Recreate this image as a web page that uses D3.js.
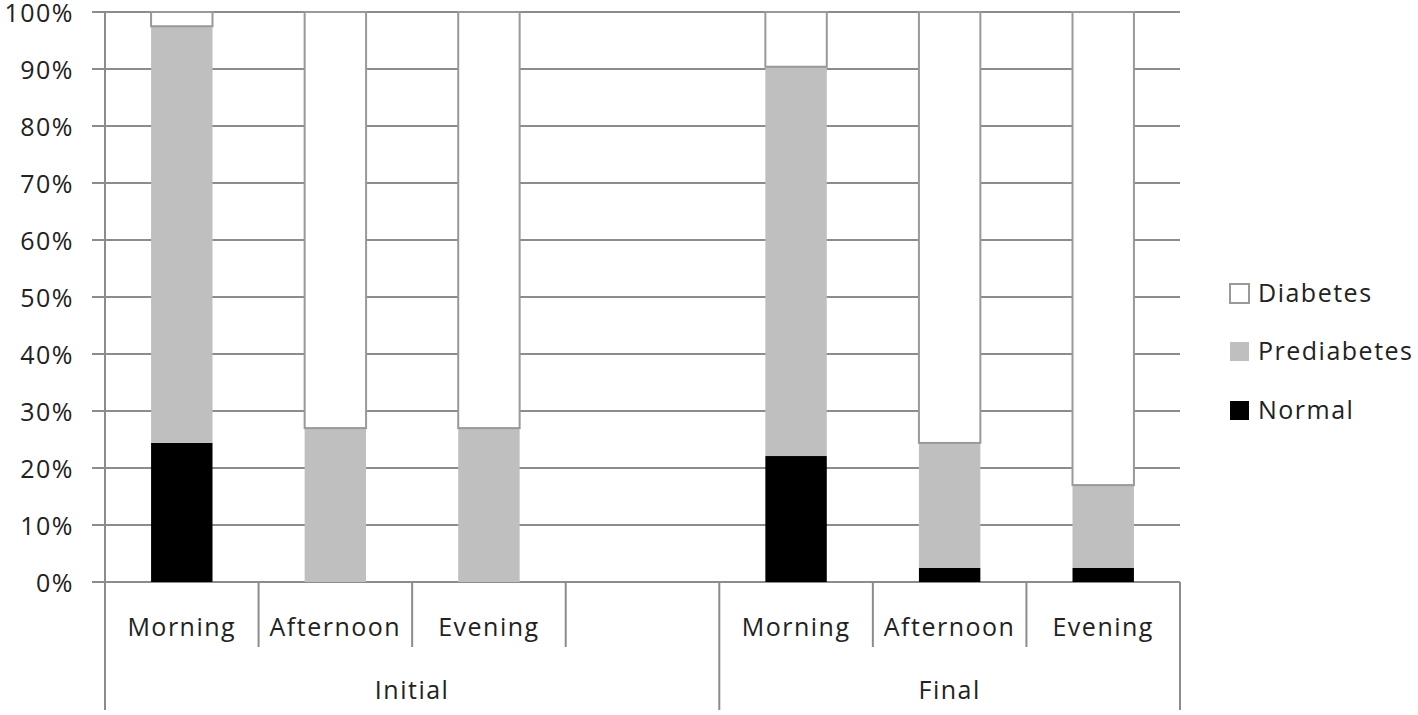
<!DOCTYPE html>
<html>
<head>
<meta charset="utf-8">
<script src="https://cdn.jsdelivr.net/npm/d3@7"></script>
<style>
  body { margin: 0; background: #fff; }
  text { font-family: "Open Sans", sans-serif; fill: #222; letter-spacing: 1.5px; }
</style>
</head>
<body>
<div id="canvas"></div>
<script>
var _width = 1418;
var _height = 715;

// data (percent of group)
var slots = ["i-m", "i-a", "i-e", "gap", "f-m", "f-a", "f-e"];
var slotLabels = ["Morning", "Afternoon", "Evening", "", "Morning", "Afternoon", "Evening"];
var groups = ["Initial", "Final"];
var groupSpans = [[0, 3], [4, 6]];
var seriesNames = ["Normal", "Prediabetes", "Diabetes"];
var normal = [24.4, 0, 0, 0, 22.1, 2.5, 2.5];
var prediabetes = [73.1, 27.0, 27.0, 0, 68.3, 21.9, 14.5];
var diabetes = [2.5, 73.0, 73.0, 0, 9.6, 75.6, 83.0];
var yTicks = [0, 10, 20, 30, 40, 50, 60, 70, 80, 90, 100];

var colors = { Normal: "#000000", Prediabetes: "#bfbfbf", Diabetes: "#ffffff" };
var gridColor = "#8c8c8c";
var fs = '25px';

var rows = slots.map(function (s, i) {
    return { slot: s, Normal: normal[i], Prediabetes: prediabetes[i], Diabetes: diabetes[i], empty: s === "gap" };
});

var x = d3.scaleBand().domain(slots).range([105, 1180]).paddingInner(0).paddingOuter(0);
var y = d3.scaleLinear().domain([0, 100]).range([582, 12]);
var bw = x.bandwidth() * 0.4;

var svg = d3.select('#canvas').append('svg')
    .attr('width', _width)
    .attr('height', _height);

// gridlines + tick marks
svg.append('g').selectAll('line').data(yTicks).enter().append('line')
    .attr('x1', 92).attr('x2', 1180)
    .attr('y1', function (d) { return y(d); })
    .attr('y2', function (d) { return y(d); })
    .style('stroke', gridColor).style('stroke-width', 2);

svg.append('g').selectAll('text').data(yTicks).enter().append('text')
    .attr('x', 74).attr('y', function (d) { return y(d) + 1; })
    .attr('dy', '0.35em').attr('text-anchor', 'end')
    .style('font-size', fs)
    .text(function (d) { return d + "%"; });

// y axis line
svg.append('line').attr('x1', 105).attr('x2', 105).attr('y1', 12).attr('y2', 710)
    .style('stroke', gridColor).style('stroke-width', 2);

// stacked bars
var stack = d3.stack().keys(seriesNames)(rows.filter(function (r) { return !r.empty; }));
var layers = svg.append('g').selectAll('g').data(stack).enter().append('g');
layers.selectAll('rect').data(function (d) { return d.map(function (v) { v.key = d.key; return v; }); })
    .enter().append('rect')
    .attr('x', function (d) { return x(d.data.slot) + (x.bandwidth() - bw) / 2; })
    .attr('width', bw)
    .attr('y', function (d) { return y(d[1]); })
    .attr('height', function (d) { return Math.max(0, y(d[0]) - y(d[1])); })
    .style('fill', function (d) { return colors[d.key]; })
    .style('stroke', function (d) { return d.key === "Diabetes" ? "#999" : "none"; })
    .style('stroke-width', function (d) { return d.key === "Diabetes" ? 2 : 0; });

// category axis: inner separators
var inner = [];
for (var i = 1; i < slots.length; i++) {
    var b = x(slots[i]);
    var isGroupEdge = groupSpans.some(function (g) { return g[0] === i; });
    if (!isGroupEdge) inner.push(b);
}
svg.append('g').selectAll('line').data(inner).enter().append('line')
    .attr('x1', function (d) { return d; }).attr('x2', function (d) { return d; })
    .attr('y1', 582).attr('y2', 647)
    .style('stroke', gridColor).style('stroke-width', 2);

// group separators
var outer = [x(slots[groupSpans[1][0]]), 1180];
svg.append('g').selectAll('line').data(outer).enter().append('line')
    .attr('x1', function (d) { return d; }).attr('x2', function (d) { return d; })
    .attr('y1', 582).attr('y2', 710)
    .style('stroke', gridColor).style('stroke-width', 2);

svg.append('g').selectAll('text').data(slots).enter().append('text')
    .attr('x', function (d) { return x(d) + x.bandwidth() / 2; })
    .attr('y', 627).attr('dy', '0.35em').attr('text-anchor', 'middle')
    .style('font-size', fs)
    .text(function (d, i) { return slotLabels[i]; });

svg.append('g').selectAll('text').data(groups).enter().append('text')
    .attr('x', function (d, i) {
        var a = i === 0 ? 105 : x(slots[groupSpans[1][0]]);
        var b = i === 0 ? x(slots[groupSpans[1][0]]) : 1180;
        return (a + b) / 2;
    })
    .attr('y', 690).attr('dy', '0.35em').attr('text-anchor', 'middle')
    .style('font-size', fs)
    .text(function (d) { return d; });

// legend
var legendItems = ["Diabetes", "Prediabetes", "Normal"];
var legendY = [293, 351, 410];
var lg = svg.append('g').selectAll('g').data(legendItems).enter().append('g')
    .attr('transform', function (d, i) { return 'translate(1230,' + legendY[i] + ')'; });
lg.append('rect').attr('x', 0).attr('y', -9).attr('width', 19).attr('height', 19)
    .style('fill', function (d) { return colors[d]; })
    .style('stroke', function (d) { return d === "Diabetes" ? "#999" : "none"; })
    .style('stroke-width', 2);
lg.append('text').attr('x', 28).attr('y', 0).attr('dy', '0.35em')
    .style('font-size', fs)
    .text(function (d) { return d; });
</script>
</body>
</html>
